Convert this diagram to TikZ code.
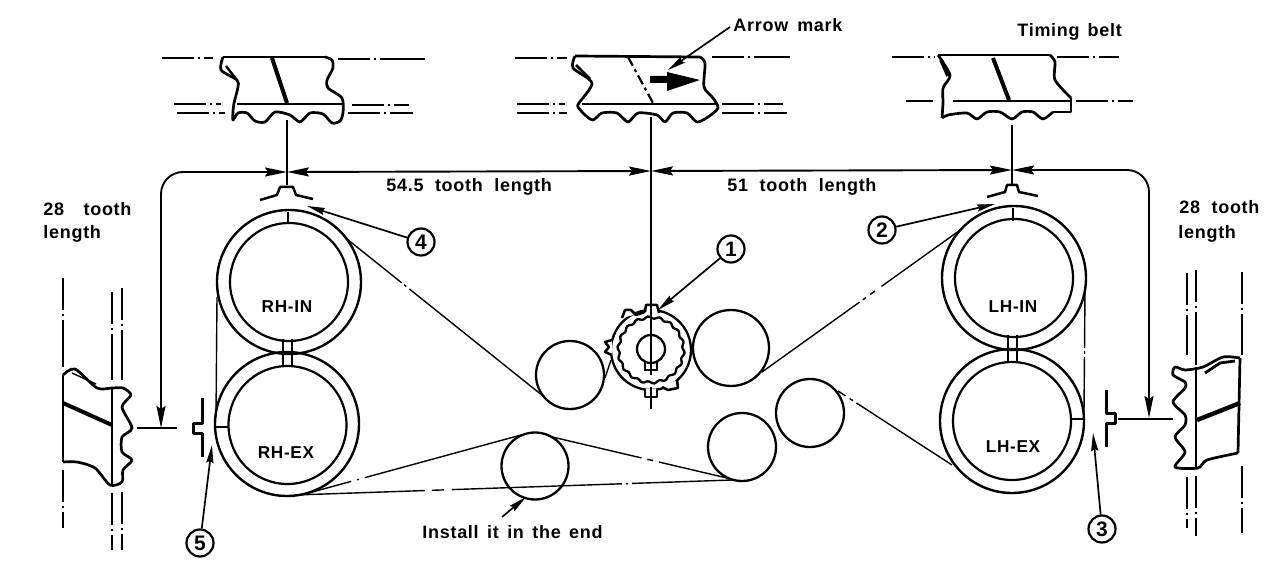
\documentclass[tikz,border=0pt]{standalone}
\usepackage{fontspec}
\setmainfont[LetterSpace=4,WordSpace=2]{Liberation Sans}
\usetikzlibrary{arrows.meta}
\tikzset{
 big/.style={circle,draw,line width=1.2pt,minimum size=72pt,inner sep=0pt},
 small/.style={circle,draw,line width=1.1pt,minimum size=59pt,inner sep=0pt},
 idler/.style={circle,draw,line width=1.15pt,inner sep=0pt},
 lab/.style={inner sep=0pt,font=\bfseries\fontsize{9}{11}\selectfont},
 pul/.style={inner sep=0pt,font=\bfseries\fontsize{8.6}{10}\selectfont},
 num/.style={circle,draw,line width=1.1pt,inner sep=0pt,minimum size=13.5pt,font=\bfseries\fontsize{10.5}{10}\selectfont},
 belt/.style={line width=.7pt},
 frag/.style={line width=1.35pt,line join=round},
 cl/.style={line width=.8pt,dash pattern=on 16pt off 2pt on 1.2pt off 2pt on 80pt},
 dim/.style={line width=.95pt,{Stealth[length=11pt,width=4.5pt,inset=1.5pt]}-{Stealth[length=11pt,width=4.5pt,inset=1.5pt]}},
 lead/.style={line width=.85pt,-{Stealth[length=9pt,width=3.5pt,inset=1pt]}},
 tick/.style={line width=.8pt},
 mk/.style={line width=1.25pt,line join=round},
 slant/.style={line width=2pt}
}
\begin{document}
\begin{tikzpicture}[x=.5pt,y=-.5pt]
\useasboundingbox (0,0) rectangle (1280,572);
\fill[white] (0,0) rectangle (1280,572);
% ---- sprocket rings
\node[big] (rhinO) at (289,282) {};
\node[small] (rhinI) at (289,282) {};
\node[big] (rhexO) at (287,424) {};
\node[small] (rhexI) at (287.5,425) {};
\node[big] (lhinO) at (1014,278) {};
\node[small] (lhinI) at (1014,278) {};
\node[big] (lhexO) at (1012,421) {};
\node[small] (lhexI) at (1012,421) {};
\node[pul] (t1) at (287,307) {RH-IN};
\node[pul] (t2) at (286,453) {RH-EX};
\node[pul] (t3) at (1013,307) {LH-IN};
\node[pul] (t4) at (1013,447) {LH-EX};
% ---- idlers
\node[idler,minimum size=34pt] (pa) at (570,375) {};
\node[idler,minimum size=38pt] (pb) at (731,348) {};
\node[idler,minimum size=34pt] (pc) at (742,447) {};
\node[idler,minimum size=34pt] (pd) at (810,413) {};
\node[idler,minimum size=33.5pt] (pe) at (535,466) {};
% ---- crank
\node[idler,minimum size=40pt] (crank) at (651,350) {};
\draw[line width=1.15pt,shift={(651,350)}] plot[domain=0:357,samples=120,smooth] ({(32.5+1.1*sin(18*\x))*cos(\x)},{(32.5+1.1*sin(18*\x))*sin(\x)}) -- cycle;
\node[idler,minimum size=14pt] (hub) at (651,349) {};
\draw[line width=1pt] (645,362) -- (645,370) -- (657,370) -- (657,362);
\draw[mk,fill=white] (645,312) -- (646,305) -- (657,305) -- (659,313);
\draw[mk,fill=white] (622,318) -- (625,310) -- (631,310) -- (636,315) -- (645,312);
\draw[mk,fill=white] (612,340) -- (605,342) -- (609,347) -- (605,352) -- (612,355);
\draw[mk,fill=white] (645,389) -- (645,397) -- (657,397) -- (657,389);
\draw[mk,fill=white] (662,387) -- (668,390) -- (678,388) -- (677,380);
% ---- belt runs
\coordinate (b1) at (347,239); \coordinate (b2) at (543,396);
\coordinate (b3) at (605,378); \coordinate (b4) at (611,360);
\coordinate (b5) at (762,372); \coordinate (b6) at (963,228);
\coordinate (b7) at (952,465); \coordinate (b8) at (838,391);
\coordinate (b9) at (1085,290); \coordinate (b10) at (1084,412);
\coordinate (b11) at (217,297); \coordinate (b12) at (216,417);
\coordinate (b13) at (305,494); \coordinate (b14) at (521,435);
\coordinate (b15) at (548,436); \coordinate (b16) at (727,478);
\coordinate (b17) at (295,495); \coordinate (b18) at (732,480);
\draw[belt,dash pattern=on 35pt off 1.5pt on 1.5pt off 2pt on 200pt] (b1) -- (b2);
\draw[belt] (b3) -- (b4);
\draw[belt,dash pattern=on 60pt off 2pt on 2pt off 2.5pt on 3pt off 4pt on 100pt] (b5) -- (b6);
\draw[belt,dash pattern=on 57pt off 2pt on 2pt off 2.5pt on 100pt] (b7) -- (b8);
\draw[belt,dash pattern=on 29pt off 1.5pt on 1.5pt off 1.5pt on 100pt] (b9) -- (b10);
\draw[belt] (b11) -- (b12);
\draw[belt,dash pattern=on 24pt off 3pt on 1pt off 3pt on 100pt] (b13) -- (b14);
\draw[belt,dash pattern=on 48pt off 3pt on 3pt off 3pt on 100pt] (b15) -- (b16);
\draw[belt,dash pattern=on 65pt off 3.5pt on 6pt off 4pt on 85pt off 2pt on 1pt off 2pt on 100pt] (b17) -- (b18);
% ---- timing marks on rings
\draw[tick,line width=1.1pt] (288,212) -- (288,224);
\draw[tick,line width=1.1pt] (283,339) -- (283,353) (292,339) -- (292,353);
\draw[tick,line width=1.1pt] (283,353) -- (283,367) (292,353) -- (292,367);
\draw[tick,line width=1.1pt] (216,427) -- (229,427);
\draw[tick,line width=1.1pt] (1013,208) -- (1013,221);
\draw[tick,line width=1.1pt] (1008,335) -- (1008,363) (1017,335) -- (1017,363);
\draw[tick,line width=1.1pt] (1072,419) -- (1084,419);
% ---- crankshaft / cam pointers
\draw[mk] (260,200) -- (277,195) -- (280,187) -- (293,187) -- (296,195) -- (313,199);
\draw[mk] (987,197) -- (1005,192) -- (1007,185) -- (1017,185) -- (1019,192) -- (1038,196);
\draw[mk,line width=1.5pt] (202,398) -- (202,423) -- (193,423) -- (193,433) -- (202,433) -- (202,457);
\draw[mk,line width=1.5pt] (1106,390) -- (1106,413) -- (1115,413) -- (1115,423) -- (1106,423) -- (1106,447);
% ---- vertical reference lines
\coordinate (v1a) at (287,120); \coordinate (v1b) at (287,185);
\coordinate (v2a) at (651,117); \coordinate (v2b) at (651,375);
\coordinate (v2c) at (651,387); \coordinate (v2d) at (651,409);
\coordinate (v3a) at (1012,125); \coordinate (v3b) at (1012,185);
\coordinate (h1a) at (137,428); \coordinate (h1b) at (177,428);
\coordinate (h2a) at (1118,419); \coordinate (h2b) at (1173,419);
\draw[tick] (v1a) -- (v1b);
\draw[line width=1.1pt] (v2a) -- (v2b);
\draw[line width=1.1pt] (v2c) -- (v2d);
\draw[tick] (v3a) -- (v3b);
\draw[tick] (h1a) -- (h1b);
\draw[tick] (h2a) -- (h2b);
% ---- dimension lines
\coordinate (dL) at (161,428); \coordinate (dLc) at (161,172);
\coordinate (d1) at (287,172); \coordinate (d2) at (651,171); \coordinate (d3) at (1012,170);
\coordinate (dRc) at (1149,170); \coordinate (dR) at (1149,418);
\draw[dim,rounded corners=11pt] (dL) -- (dLc) -- (d1);
\draw[dim] (d1) -- (d2);
\draw[dim] (d2) -- (d3);
\draw[dim,rounded corners=11pt] (d3) -- (dRc) -- (dR);
% ---- labels
\node[lab,anchor=west] (l1) at (386,187) {54.5 tooth length};
\node[lab,anchor=west] (l2) at (727,187) {51 tooth length};
\node[lab,anchor=west] (l3) at (733,25) {\spaceskip=4.5pt Arrow mark};
\node[lab,anchor=west] (l4) at (1017,32) {\spaceskip=4pt Timing belt};
\node[lab,anchor=west] (l5) at (43,209) {28\hspace{4pt} tooth};
\node[lab,anchor=west] (l6) at (43,234) {length};
\node[lab,anchor=west] (l7) at (1179,207) {28 tooth};
\node[lab,anchor=west] (l8) at (1178,234) {length};
\node[lab,anchor=west] (l9) at (422,532) {\spaceskip=4.2pt Install it in the end};
% ---- numbered callouts
\node[num] (n1) at (731,249) {1};
\node[num] (n2) at (882,230) {2};
\node[num] (n3) at (1102,529) {3};
\node[num] (n4) at (421,242) {4};
\node[num] (n5) at (200,543) {5};
\coordinate (a1) at (658,310); \coordinate (a2) at (995,204);
\coordinate (a3) at (1093,433); \coordinate (a4) at (307,206);
\coordinate (a5) at (212,445); \coordinate (a6) at (668,70);
\coordinate (a7) at (526,497); \coordinate (s7) at (502,517); \coordinate (s6) at (730,27);
\draw[lead] (n1) -- (a1);
\draw[lead] (n2) -- (a2);
\draw[lead] (n3) -- (a3);
\draw[lead] (n4) -- (a4);
\draw[lead] (n5) -- (a5);
\draw[lead] (s6) -- (a6);
\draw[lead] (s7) -- (a7);
% ---- belt fragment, top left
\draw[cl] (162,58) -- (213,58);
\draw[cl] (338,59) -- (425,59);
\draw[cl] (174,104) -- (221,104);
\draw[cl] (177,113) -- (225,113);
\draw[cl] (352,105) -- (409,105);
\draw[cl] (348,113) -- (413,113);
\draw[frag] plot[smooth,tension=.45] coordinates {(325,57) (332,60) (333,68) (327,80) (328,88) (342,98) (343,113) (340,121) (332,123) (323,114) (310,113) (300,122) (290,115) (275,112) (265,122) (255,121) (247,113) (238,113) (233,120) (233,112) (234,103) (238,87) (237,80) (221,70) (223,57)};
\draw[frag] (223,57) -- (325,57);
\draw[line width=1.2pt] (226,66) -- (236,79);
\draw[line width=.8pt] (237,104) -- (342,104);
\draw[slant] (272,58) -- (287,103);
% ---- belt fragment, top centre
\draw[cl] (515,58) -- (567,58);
\draw[cl] (712,57) -- (790,57);
\draw[cl] (517,104) -- (565,104);
\draw[cl] (517,113) -- (567,113);
\draw[cl] (722,104) -- (783,104);
\draw[cl] (722,113) -- (787,113);
\draw[frag] (575,56) -- (700,57);
\draw[frag] plot[smooth,tension=.45] coordinates {(700,57) (705,63) (704,87) (713,98) (718,108) (708,117) (697,122) (687,113) (673,113) (665,122) (657,115) (638,113) (628,122) (617,113) (602,113) (593,120) (585,115) (578,107) (579,103) (592,83) (573,68) (575,56)};
\draw[line width=1.4pt] (576,65) -- (590,79);
\draw[line width=.8pt] (582,104) -- (717,104);
\draw[line width=1.1pt,dash pattern=on 5pt off 2pt on 1.5pt off 2pt] (628,57) -- (653,103);
\fill (650,76) -- (667,76) -- (667,72) -- (700,80) -- (667,91) -- (667,83) -- (650,83) -- cycle;
% ---- belt fragment, top right
\draw[cl] (892,57) -- (935,57);
\draw[cl] (1057,57) -- (1119,57);
\draw[cl] (906,101) -- (933,101);
\draw[cl] (1076,101) -- (1133,101);
\draw[frag] (938,55) -- (1050,55);
\draw[frag] plot[smooth,tension=.45] coordinates {(1050,55) (1055,62) (1055,80) (1071,98)};
\draw[frag] (1071,98) -- (1071,112) -- (1053,112);
\draw[frag] plot[smooth,tension=.45] coordinates {(1053,112) (1043,119) (1033,112) (1022,112) (1012,119) (1000,112) (987,112) (977,119) (967,113) (948,115) (942,118)};
\draw[frag] plot[smooth,tension=.45] coordinates {(942,118) (943,103) (943,88) (950,75) (938,55)};
\draw[line width=1.8pt] (941,60) -- (948,76);
\draw[line width=.95pt] (953,101) -- (1070,101);
\draw[slant] (993,58) -- (1009,100);
% ---- belt fragment, left
\draw[cl] (63,278) -- (63,367);
\draw[cl] (63,470) -- (63,528);
\draw[cl] (112,292) -- (112,380);
\draw[cl] (112,493) -- (112,550);
\draw[cl] (122,288) -- (122,380);
\draw[cl] (122,492) -- (122,550);
\draw[frag] plot[smooth,tension=.45] coordinates {(63,375) (75,369) (97,388) (112,388) (123,388) (131,395) (122,407) (132,428) (122,437) (122,452) (132,460) (123,470) (122,482) (110,485) (95,468) (77,462) (63,462)};
\draw[frag] (63,462) -- (63,375);
\draw[line width=.7pt] (72,373) -- (96,384);
\draw[line width=.8pt] (112,388) -- (112,485);
\draw[slant] (63,403) -- (112,425);
% ---- belt fragment, right
\draw[cl] (1187,273) -- (1187,355);
\draw[cl] (1187,477) -- (1187,528);
\draw[cl] (1196,270) -- (1196,365);
\draw[cl] (1196,476) -- (1196,536);
\draw[cl] (1242,272) -- (1242,355);
\draw[cl] (1242,466) -- (1242,533);
\draw[frag] plot[smooth,tension=.45] coordinates {(1240,358) (1223,357) (1203,367) (1185,370) (1175,367) (1173,375) (1185,382) (1185,388) (1173,402) (1185,415) (1185,425) (1175,437) (1185,452) (1175,467) (1198,468) (1207,460) (1238,453)};
\draw[frag] (1238,453) -- (1240,358);
\draw[line width=1.4pt] (1205,373) -- (1220,363) -- (1235,361);
\draw[line width=.85pt] (1196,367) -- (1196,468);
\draw[slant,line width=2.2pt] (1197,420) -- (1240,403);
\end{tikzpicture}
\end{document}
